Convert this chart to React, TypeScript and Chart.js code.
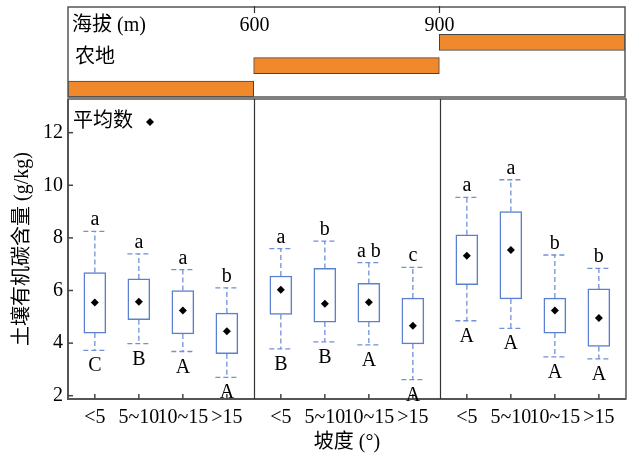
import React, { useEffect, useRef } from 'react';
import { Chart, registerables } from 'chart.js';

Chart.register(...registerables);

// ---------- data ----------
const slopeLabels = ['<5', '5~10', '10~15', '>15'];
const groupCount = 3;
const elevationStarts = [300, 600, 900];
const elevationEnds = [600, 900, 1200];
const elevationTicks = [600, 900];

const whiskerLow = [3.72, 3.98, 3.68, 2.7, 3.78, 4.05, 3.93, 2.61, 4.85, 4.56, 3.48, 3.4];
const quartile1 = [4.38, 4.89, 4.35, 3.6, 5.09, 4.8, 4.8, 3.97, 6.22, 5.68, 4.38, 3.87];
const quartile3 = [6.68, 6.44, 6.0, 5.14, 6.55, 6.84, 6.27, 5.71, 8.12, 9.0, 5.71, 6.06];
const whiskerHigh = [8.25, 7.39, 6.79, 6.1, 7.59, 7.88, 7.06, 6.88, 9.54, 10.21, 7.35, 6.84];
const means = [5.54, 5.57, 5.24, 4.45, 6.03, 5.5, 5.55, 4.66, 7.32, 7.54, 5.24, 4.95];
const upperLetters = ['a', 'a', 'a', 'b', 'a', 'b', 'a b', 'c', 'a', 'a', 'b', 'b'];
const lowerLetters = ['C', 'B', 'A', 'A', 'B', 'B', 'A', 'A', 'A', 'A', 'A', 'A'];
const yTicks = [2, 4, 6, 8, 10, 12];

// ---------- layout helpers ----------
const GROUP_SPAN = 4.227;
const FIRST_OFFSET = 0.61;
const xPos = (k: number) => Math.floor(k / 4) * GROUP_SPAN + FIRST_OFFSET + (k % 4);
const positions = whiskerLow.map((_, k) => xPos(k));
const allSlopeLabels = positions.map((_, k) => slopeLabels[k % 4]);

const SERIF = "'Liberation Serif', 'Noto Sans CJK SC'";
const BOX_COLOR = '#5b80d0';
const WHISKER_COLOR = '#7090d8';
const FRAME_COLOR = '#555555';
const ORANGE = '#f0882c';

const boxExtras = {
  id: 'boxExtras',
  beforeDatasetsDraw(chart: any) {
    const { ctx, scales } = chart;
    const x = scales.x;
    const y = scales.y;
    ctx.save();
    ctx.strokeStyle = WHISKER_COLOR;
    ctx.lineWidth = 1.3;
    ctx.setLineDash([5, 3]);
    const half = 11.5;
    positions.forEach((p, k) => {
      const px = x.getPixelForValue(p);
      const segs = [
        [px, y.getPixelForValue(quartile3[k]), px, y.getPixelForValue(whiskerHigh[k])],
        [px - half, y.getPixelForValue(whiskerHigh[k]), px + half, y.getPixelForValue(whiskerHigh[k])],
        [px, y.getPixelForValue(quartile1[k]), px, y.getPixelForValue(whiskerLow[k])],
        [px - half, y.getPixelForValue(whiskerLow[k]), px + half, y.getPixelForValue(whiskerLow[k])],
      ];
      segs.forEach(([a, b, c, d]) => {
        ctx.beginPath();
        ctx.moveTo(a, b);
        ctx.lineTo(c, d);
        ctx.stroke();
      });
    });
    ctx.restore();
  },
  afterDraw(chart: any) {
    const { ctx, chartArea, scales } = chart;
    const x = scales.x;
    const y = scales.y;
    const { left, right, top, bottom } = chartArea;
    ctx.save();
    // frame
    ctx.strokeStyle = FRAME_COLOR;
    ctx.lineWidth = 1.5;
    ctx.strokeRect(left, top, right - left, bottom - top);
    ctx.lineWidth = 2;
    ctx.beginPath();
    ctx.moveTo(left, top);
    ctx.lineTo(left, bottom);
    ctx.lineTo(right, bottom);
    ctx.stroke();
    // dividers
    ctx.strokeStyle = '#333';
    ctx.lineWidth = 1.2;
    for (let g = 1; g < groupCount; g++) {
      const px = Math.round(x.getPixelForValue(g * GROUP_SPAN)) + 0.5;
      ctx.beginPath();
      ctx.moveTo(px, top);
      ctx.lineTo(px, bottom);
      ctx.stroke();
    }
    // inward ticks
    ctx.strokeStyle = '#444';
    ctx.lineWidth = 1.5;
    yTicks.forEach((v) => {
      const py = y.getPixelForValue(v);
      ctx.beginPath();
      ctx.moveTo(left, py);
      ctx.lineTo(left + 5, py);
      ctx.stroke();
    });
    positions.forEach((p) => {
      const px = x.getPixelForValue(p);
      ctx.beginPath();
      ctx.moveTo(px, bottom);
      ctx.lineTo(px, bottom - 5);
      ctx.stroke();
    });
    // letters
    ctx.fillStyle = '#000';
    ctx.font = `20px ${SERIF}`;
    ctx.textAlign = 'center';
    ctx.textBaseline = 'alphabetic';
    positions.forEach((p, k) => {
      const px = x.getPixelForValue(p);
      ctx.fillText(upperLetters[k], px, y.getPixelForValue(whiskerHigh[k]) - 6);
      ctx.fillText(lowerLetters[k], px, y.getPixelForValue(whiskerLow[k]) + 21);
    });
    // legend
    ctx.textAlign = 'left';
    ctx.textBaseline = 'middle';
    ctx.fillText('平均数', left + 5, top + 23);
    ctx.beginPath();
    const dx = left + 82;
    const dy = top + 23;
    ctx.moveTo(dx, dy - 4);
    ctx.lineTo(dx + 4, dy);
    ctx.lineTo(dx, dy + 4);
    ctx.lineTo(dx - 4, dy);
    ctx.closePath();
    ctx.fill();
    ctx.restore();
  },
};

const topExtras = {
  id: 'topExtras',
  afterDraw(chart: any) {
    const { ctx, chartArea, scales } = chart;
    const x = scales.x;
    const { left, right, top, bottom } = chartArea;
    ctx.save();
    ctx.strokeStyle = FRAME_COLOR;
    ctx.lineWidth = 1.5;
    ctx.strokeRect(left, top, right - left, bottom - top);
    ctx.strokeStyle = '#333';
    ctx.lineWidth = 1.2;
    ctx.fillStyle = '#000';
    ctx.font = `20px ${SERIF}`;
    ctx.textBaseline = 'middle';
    ctx.textAlign = 'center';
    elevationTicks.forEach((v) => {
      const px = Math.round(x.getPixelForValue(v)) + 0.5;
      ctx.beginPath();
      ctx.moveTo(px, top - 1);
      ctx.lineTo(px, top + 6);
      ctx.stroke();
      ctx.fillText(String(v), px, 26);
    });
    ctx.textAlign = 'left';
    ctx.fillText('海拔 (m)', left + 4, 26);
    ctx.fillText('农地', left + 7, 58);
    ctx.restore();
  },
};

export default function App() {
  const topRef = useRef<HTMLCanvasElement>(null);
  const mainRef = useRef<HTMLCanvasElement>(null);

  useEffect(() => {
    const topChart = new Chart(topRef.current as HTMLCanvasElement, {
      type: 'bar',
      data: {
        datasets: [
          {
            data: elevationStarts.map((s, i) => ({ x: [s, elevationEnds[i]], y: i })) as any,
            backgroundColor: ORANGE,
            borderColor: '#444',
            borderWidth: 1,
            borderSkipped: false,
            barThickness: 16,
          },
        ],
      },
      options: {
        indexAxis: 'y',
        responsive: false,
        animation: false,
        layout: { padding: { left: 68, right: 13, top: 7, bottom: 3 } },
        plugins: { legend: { display: false }, tooltip: { enabled: false } },
        scales: {
          x: { type: 'linear', min: 300, max: 1200, display: false, offset: false },
          y: { type: 'linear', min: -0.343, max: 3.519, display: false, offset: false },
        },
      },
      plugins: [topExtras],
    } as any);

    const mainChart = new Chart(mainRef.current as HTMLCanvasElement, {
      type: 'bar',
      data: {
        datasets: [
          {
            type: 'bar',
            order: 1,
            data: positions.map((p, k) => ({ x: p, y: [quartile1[k], quartile3[k]] })) as any,
            backgroundColor: '#ffffff',
            borderColor: BOX_COLOR,
            borderWidth: 1.5,
            borderSkipped: false,
            barThickness: 22,
          },
          {
            type: 'scatter',
            order: 0,
            data: positions.map((p, k) => ({ x: p, y: means[k] })),
            showLine: false,
            pointStyle: 'rectRot',
            pointRadius: 4,
            pointBackgroundColor: '#000',
            pointBorderColor: '#000',
            pointBorderWidth: 0,
          },
        ],
      },
      options: {
        responsive: false,
        animation: false,
        layout: { padding: { left: 0, right: 12, top: 99, bottom: 0 } },
        plugins: { legend: { display: false }, tooltip: { enabled: false } },
        scales: {
          x: {
            type: 'linear',
            offset: false,
            min: 0,
            max: GROUP_SPAN * groupCount,
            afterBuildTicks: (scale: any) => {
              scale.ticks = positions.map((p) => ({ value: p }));
            },
            afterFit: (scale: any) => {
              scale.height = 57;
            },
            grid: { display: false, drawTicks: false },
            border: { display: false },
            ticks: {
              autoSkip: false,
              maxRotation: 0,
              padding: 7,
              color: '#000',
              font: { family: SERIF, size: 20 },
              callback: (_v: any, i: number) => allSlopeLabels[i],
            },
            title: {
              display: true,
              text: '坡度 (°)',
              color: '#000',
              font: { family: SERIF, size: 20 },
              padding: { top: 0, bottom: 1 },
            },
          },
          y: {
            type: 'linear',
            min: 1.875,
            max: 13.28,
            afterBuildTicks: (scale: any) => {
              scale.ticks = yTicks.map((v) => ({ value: v }));
            },
            afterFit: (scale: any) => {
              scale.width = 68;
            },
            grid: { display: false, drawTicks: false },
            border: { display: false },
            ticks: {
              padding: 5,
              color: '#000',
              font: { family: SERIF, size: 20 },
            },
            title: {
              display: true,
              text: '土壤有机碳含量 (g/kg)',
              color: '#000',
              font: { family: SERIF, size: 20 },
              padding: { top: 11, bottom: 0 },
            },
          },
        },
      },
      plugins: [boxExtras],
    } as any);

    return () => {
      topChart.destroy();
      mainChart.destroy();
    };
  }, []);

  return (
    <div style={{ position: 'fixed', left: 0, top: 0, width: 638, height: 456, background: '#fff' }}>
      <canvas
        ref={mainRef}
        width={638}
        height={456}
        style={{ position: 'absolute', left: 0, top: 0, width: 638, height: 456 }}
      />
      <canvas
        ref={topRef}
        width={638}
        height={100}
        style={{ position: 'absolute', left: 0, top: 0, width: 638, height: 100 }}
      />
    </div>
  );
}
